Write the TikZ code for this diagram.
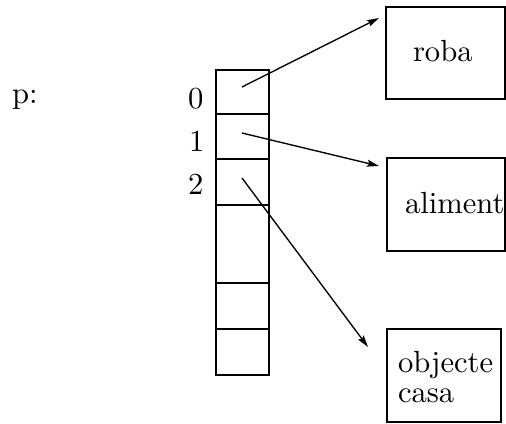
\documentclass[tikz,border=0pt]{standalone}
\usetikzlibrary{arrows.meta}
\begin{document}
\begin{tikzpicture}[x=0.3333pt,y=-0.3333pt,
  cell/.style={draw,line width=0.85pt,minimum width=53pt/3,inner sep=0pt,outer sep=0pt},
  frame/.style={draw,line width=0.85pt,inner sep=0pt,outer sep=0pt},
  txt/.style={anchor=base west,inner sep=0pt,outer sep=0pt,font=\fontsize{10.2}{12}\selectfont},
  ptr/.style={line width=0.45pt,-{Stealth[length=4pt,width=2.3pt,inset=0.7pt]}}]
\useasboundingbox (0,0) rectangle (506,423);

% the array p, six cells stacked top to bottom
\node[cell,minimum height=44pt/3] (c0) at (242.5,92) {};
\node[cell,minimum height=45pt/3] (c1) at (242.5,136.5) {};
\node[cell,minimum height=46pt/3] (c2) at (242.5,182) {};
\node[cell,minimum height=78pt/3] (c3) at (242.5,244) {};
\node[cell,minimum height=46pt/3] (c4) at (242.5,306) {};
\node[cell,minimum height=46pt/3] (c5) at (242.5,352) {};

% labels
\node[txt] (p) at (12,103) {p:};
\node[txt] (i0) at (188,108) {0};
\node[txt] (i1) at (189,151) {1};
\node[txt] (i2) at (188,194) {2};

% pointed-to objects
\node[frame,minimum width=119pt/3,minimum height=92pt/3] (roba) at (445.5,53) {};
\node[txt] (troba) at (413,61) {roba};
\node[frame,minimum width=118pt/3,minimum height=93pt/3] (aliment) at (446,204.5) {};
\node[txt] (taliment) at (405,213) {aliment};
\node[frame,minimum width=114pt/3,minimum height=93pt/3] (casa) at (444,375.5) {};
\node[txt] (tobj) at (398,372) {objecte};
\node[txt] (tcasa) at (398,402) {casa};

% pointer sources and targets
\coordinate (s0) at (242,87);
\coordinate (s1) at (242,133);
\coordinate (s2) at (242,178);
\coordinate (e0) at (379,18);
\coordinate (e1) at (379,166);
\coordinate (e2) at (368,347);

\draw[ptr] (s0) -- (e0);
\draw[ptr] (s1) -- (e1);
\draw[ptr] (s2) -- (e2);
\end{tikzpicture}
\end{document}
